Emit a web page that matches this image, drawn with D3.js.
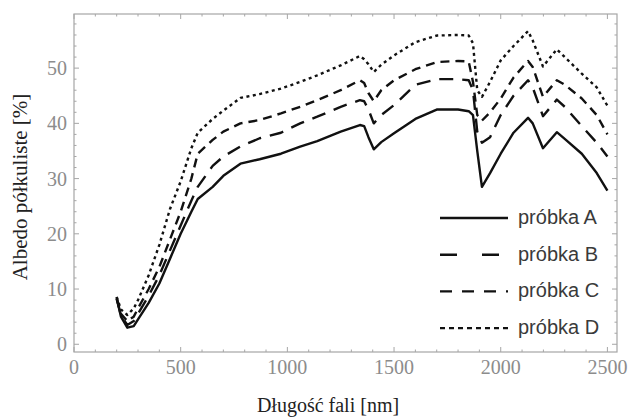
<!DOCTYPE html>
<html>
<head>
<meta charset="utf-8">
<script src="https://cdn.jsdelivr.net/npm/d3@7/dist/d3.min.js"></script>
<style>
  html, body { margin: 0; padding: 0; background: #fff; }
  svg { display: block; }
</style>
</head>
<body>
<svg id="chart" width="629" height="419"></svg>
<script>
// Wavelength grid [nm]
const wavelengths = [200, 220, 250, 280, 300, 350, 400, 450, 500, 550, 580, 650, 700, 780, 870, 970,
  1060, 1140, 1250, 1340, 1360, 1380, 1405, 1440, 1500, 1600, 1700, 1800, 1850, 1870, 1890, 1912,
  1950, 2000, 2060, 2128, 2150, 2198, 2263, 2300, 2380, 2450, 2500];

// Hemispherical albedo [%] per sample
const sampleA = [8.5, 5.0, 3.0, 3.3, 4.5, 7.5, 11, 15.5, 20, 24, 26.3, 28.5, 30.5, 32.7, 33.5, 34.5,
  35.8, 36.8, 38.5, 39.7, 39.5, 37.5, 35.3, 36.6, 38.2, 40.8, 42.5, 42.5, 42.2, 41.5, 35, 28.5,
  31, 34.5, 38.3, 41, 40, 35.5, 38.4, 37.2, 34.5, 31, 27.8];
const sampleB = [8.2, 5.2, 3.5, 4.2, 5.5, 8.8, 12.5, 17, 21.5, 26, 28.5, 32.3, 34, 35.8, 37.3, 38.3,
  40, 41.2, 43, 44.2, 44, 42.5, 40, 41.5, 43.3, 47, 48, 48, 47.8, 46, 38.5, 36.5,
  37.5, 41.5, 45, 47.8, 46.5, 41.3, 44.3, 43, 39.5, 36.5, 34];
const sampleC = [8.3, 5.5, 4.2, 5, 6.5, 10, 14, 19, 24, 30, 34.5, 37, 38.5, 40, 40.6, 41.8,
  43, 44.2, 46, 47.8, 47.3, 45.5, 44, 46, 47.8, 49.8, 51.1, 51.3, 51.2, 47.5, 41.5, 40.5,
  42, 44.5, 48.3, 51.3, 50.2, 44.8, 47.8, 47, 44.5, 41.5, 38];
const sampleD = [8.6, 6.3, 5.3, 6.5, 8, 12.5, 18, 24.5, 29.5, 35.5, 38.3, 40.8, 42.3, 44.6, 45.3, 46.3,
  47.5, 48.7, 50.5, 52.2, 51.6, 50.7, 49.3, 50.6, 52.3, 54.7, 55.9, 56, 55.9, 54.5, 46, 44.8,
  47.5, 51.4, 54, 56.7, 55, 50.3, 53.4, 52, 49, 46.5, 43.2];

const seriesNames = ["próbka A", "próbka B", "próbka C", "próbka D"];
const xTicks = [0, 500, 1000, 1500, 2000, 2500];
const yTicks = [0, 10, 20, 30, 40, 50];

const series = [
  { name: seriesNames[0], values: sampleA, dash: null,    legendDash: null },
  { name: seriesNames[1], values: sampleB, dash: "14,9",  legendDash: "17,25" },
  { name: seriesNames[2], values: sampleC, dash: "9,6",   legendDash: "12,10" },
  { name: seriesNames[3], values: sampleD, dash: "3,3.5", legendDash: "5,4" }
];

const svg = d3.select("#chart");
const frame = { left: 74, right: 617, top: 14, bottom: 352 };

const x = d3.scaleLinear().domain([0, 2545]).range([frame.left, frame.right]);
const y = d3.scaleLinear().domain([-1.4, 59.8]).range([frame.bottom, frame.top]);

const axisColor = "#a6a6a6";
const labelColor = "#8c8c8c";

// Frame
svg.append("rect")
  .attr("x", frame.left).attr("y", frame.top)
  .attr("width", frame.right - frame.left).attr("height", frame.bottom - frame.top)
  .attr("fill", "none").attr("stroke", axisColor).attr("stroke-width", 1.2);

// Inward ticks on all four sides
const xMinor = d3.range(0, 2545, 100);
const yMinor = d3.range(0, 59.8, 2);
const tickG = svg.append("g").attr("stroke", axisColor).attr("stroke-width", 1);
xMinor.forEach(v => {
  const len = v % 500 === 0 ? 5 : 2.5;
  tickG.append("line").attr("x1", x(v)).attr("x2", x(v)).attr("y1", frame.bottom).attr("y2", frame.bottom - len);
  tickG.append("line").attr("x1", x(v)).attr("x2", x(v)).attr("y1", frame.top).attr("y2", frame.top + len);
});
yMinor.forEach(v => {
  const len = v % 10 === 0 ? 5 : 2.5;
  tickG.append("line").attr("y1", y(v)).attr("y2", y(v)).attr("x1", frame.left).attr("x2", frame.left + len);
  tickG.append("line").attr("y1", y(v)).attr("y2", y(v)).attr("x1", frame.right).attr("x2", frame.right - len);
});

// Tick labels
const tickFont = "'Liberation Serif', 'Times New Roman', serif";
svg.append("g").selectAll("text").data(xTicks).join("text")
  .attr("x", d => x(d)).attr("y", 374)
  .attr("text-anchor", "middle")
  .attr("font-family", tickFont).attr("font-size", 20)
  .attr("fill", labelColor)
  .text(d => d);
svg.append("g").selectAll("text").data(yTicks).join("text")
  .attr("x", 67).attr("y", d => y(d) + 7)
  .attr("text-anchor", "end")
  .attr("font-family", tickFont).attr("font-size", 20)
  .attr("fill", labelColor)
  .text(d => d);

// Axis titles
svg.append("text")
  .attr("x", 328).attr("y", 412)
  .attr("text-anchor", "middle")
  .attr("font-family", tickFont).attr("font-size", 20)
  .attr("fill", "#222")
  .text("Długość fali [nm]");
svg.append("text")
  .attr("transform", "translate(27,187) rotate(-90)")
  .attr("text-anchor", "middle")
  .attr("font-family", tickFont).attr("font-size", 21)
  .attr("fill", "#222")
  .text("Albedo półkuliste [%]");

// Curves
const line = d3.line()
  .x((d, i) => x(wavelengths[i]))
  .y(d => y(d));

svg.append("g").selectAll("path").data(series).join("path")
  .attr("d", s => line(s.values))
  .attr("fill", "none")
  .attr("stroke", "#111")
  .attr("stroke-width", 2.4)
  .attr("stroke-linejoin", "round")
  .attr("stroke-dasharray", s => s.dash);

// Legend
const legend = svg.append("g");
series.forEach((s, i) => {
  const ly = 218 + i * 36.7;
  legend.append("line")
    .attr("x1", 440).attr("x2", 508).attr("y1", ly).attr("y2", ly)
    .attr("stroke", "#111").attr("stroke-width", 2.4)
    .attr("stroke-dasharray", s.legendDash);
  legend.append("text")
    .attr("x", 518).attr("y", ly + 6)
    .attr("font-family", "'Liberation Sans', Arial, sans-serif")
    .attr("font-size", 20)
    .attr("fill", "#3a3a3a")
    .text(s.name);
});
</script>
</body>
</html>
